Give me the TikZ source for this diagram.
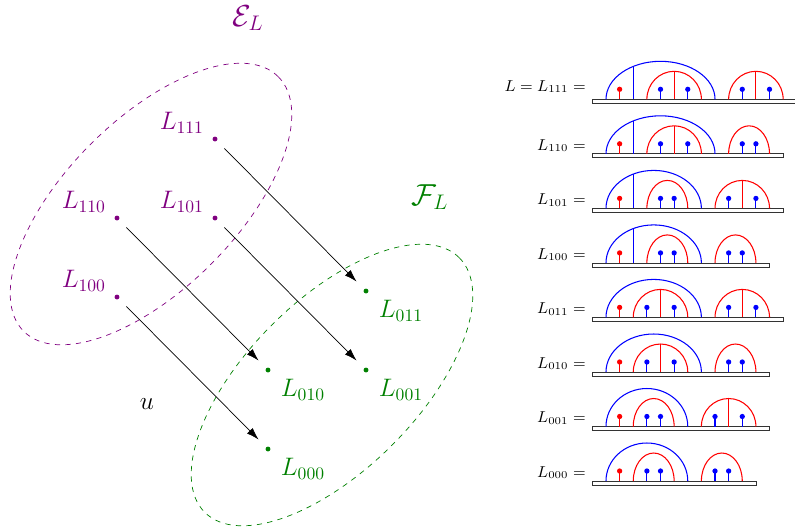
\documentclass[tikz,border=0pt]{standalone}
\usepackage{amsmath}
\usepackage{amssymb}
\usepackage{xcolor}
\usepackage{tikz}
\usetikzlibrary{arrows.meta, positioning, calc}
\definecolor{ecol}{RGB}{128,0,128}
\definecolor{fcol}{RGB}{0,128,0}

\newcommand{\bluearc}[2]{\draw[barc] (#1,0) arc[start angle=180, end angle=0, x radius={(#2-#1)/2}, y radius=38];}
\newcommand{\redarc}[2]{\draw[rarc] (#1,0) arc[start angle=180, end angle=0, x radius={(#2-#1)/2}, y radius=28];}
\newcommand{\stemdot}[2]{\draw[#1, line width=0.6pt] (#2,0) -- (#2,10); \fill[#1] (#2,10) circle (1.5pt);}
\newcommand{\railbar}[1]{\draw[railbox] (-1,0) rectangle (#1,-4);}

\begin{document}
\begin{tikzpicture}[x=0.02cm, y=-0.02cm,
  edot/.style={circle, fill=ecol, inner sep=0pt, minimum size=2.8pt},
  fdot/.style={circle, fill=fcol, inner sep=0pt, minimum size=2.8pt},
  elab/.style={text=ecol, font=\Large, inner sep=1pt},
  flab/.style={text=fcol, font=\Large, inner sep=1pt},
  map/.style={-{Latex[length=7pt, width=4.5pt]}, shorten <=6pt, shorten >=6pt},
  rlab/.style={anchor=base east, font=\small, inner sep=0pt},
  rowat/.style={shift={(606,#1)}, x=0.2726cm, y=0.02cm},
  barc/.style={draw=blue, line width=0.6pt},
  rarc/.style={draw=red, line width=0.6pt},
  railbox/.style={draw=black!80, fill=white, line width=0.45pt}
]
  \useasboundingbox (0,0) rectangle (795,529);

  % the two sets
  \draw[ecol, dashed, rotate around={45:(151,204)}] (151,204) ellipse [x radius=180, y radius=85];
  \draw[fcol, dashed, rotate around={45:(332,385)}] (332,385) ellipse [x radius=180, y radius=85];
  \node[elab, font=\LARGE, inner sep=0pt] (etitle) at (248,18) {$\mathcal{E}_L$};
  \node[flab, font=\LARGE, inner sep=0pt] (ftitle) at (430,197) {$\mathcal{F}_L$};

  \node[edot] (e111) at (215,139) {};
  \node[edot] (e110) at (117,218) {};
  \node[edot] (e101) at (215,218) {};
  \node[edot] (e100) at (117,297) {};
  \node[elab, above left=1pt and 4pt of e111] {$L_{111}$};
  \node[elab, above left=1pt and 4pt of e110] {$L_{110}$};
  \node[elab, above left=1pt and 4pt of e101] {$L_{101}$};
  \node[elab, above left=1pt and 4pt of e100] {$L_{100}$};

  \node[fdot] (f011) at (366,291) {};
  \node[fdot] (f010) at (268,370) {};
  \node[fdot] (f001) at (366,370) {};
  \node[fdot] (f000) at (268,449) {};
  \node[flab, below right=3pt and 5pt of f011] {$L_{011}$};
  \node[flab, below right=3pt and 5pt of f010] {$L_{010}$};
  \node[flab, below right=3pt and 5pt of f001] {$L_{001}$};
  \node[flab, below right=3pt and 5pt of f000] {$L_{000}$};

  \draw[map] (e111) -- (f011);
  \draw[map] (e110) -- (f010);
  \draw[map] (e101) -- (f001);
  \draw[map] (e100) -- (f000);
  \node[font=\Large] (u) at (147,404) {$u$};

  % the eight link patterns
  \node[rlab] (r111) at (586,91) {$L = L_{111} =$};
  \node[rlab] (r110) at (586,150) {$L_{110} =$};
  \node[rlab] (r101) at (586,204.5) {$L_{101} =$};
  \node[rlab] (r100) at (586,259) {$L_{100} =$};
  \node[rlab] (r011) at (586,313.5) {$L_{011} =$};
  \node[rlab] (r010) at (586,368) {$L_{010} =$};
  \node[rlab] (r001) at (586,422.5) {$L_{001} =$};
  \node[rlab] (r000) at (586,477) {$L_{000} =$};

  \begin{scope}[rowat=99.3]
    \railbar{14}
    \bluearc{0}{8} \draw[barc] (2,0) -- (2,33);
    \stemdot{red}{1}
    \redarc{3}{7} \draw[rarc] (5,0) -- (5,28); \stemdot{blue}{4} \stemdot{blue}{6}
    \redarc{9}{13} \draw[rarc] (11,0) -- (11,28); \stemdot{blue}{10} \stemdot{blue}{12}
  \end{scope}
  \begin{scope}[rowat=153.8]
    \railbar{13}
    \bluearc{0}{8} \draw[barc] (2,0) -- (2,33);
    \stemdot{red}{1}
    \redarc{3}{7} \draw[rarc] (5,0) -- (5,28); \stemdot{blue}{4} \stemdot{blue}{6}
    \redarc{9}{12} \stemdot{blue}{10} \stemdot{blue}{11}
  \end{scope}
  \begin{scope}[rowat=208.4]
    \railbar{13}
    \bluearc{0}{7} \draw[barc] (2,0) -- (2,34.3);
    \stemdot{red}{1}
    \redarc{3}{6} \stemdot{blue}{4} \stemdot{blue}{5}
    \redarc{8}{12} \draw[rarc] (10,0) -- (10,28); \stemdot{blue}{9} \stemdot{blue}{11}
  \end{scope}
  \begin{scope}[rowat=262.9]
    \railbar{12}
    \bluearc{0}{7} \draw[barc] (2,0) -- (2,34.3);
    \stemdot{red}{1}
    \redarc{3}{6} \stemdot{blue}{4} \stemdot{blue}{5}
    \redarc{8}{11} \stemdot{blue}{9} \stemdot{blue}{10}
  \end{scope}
  \begin{scope}[rowat=317.4]
    \railbar{13}
    \bluearc{0}{7}
    \stemdot{red}{1}
    \redarc{2}{6} \draw[rarc] (4,0) -- (4,28); \stemdot{blue}{3} \stemdot{blue}{5}
    \redarc{8}{12} \draw[rarc] (10,0) -- (10,28); \stemdot{blue}{9} \stemdot{blue}{11}
  \end{scope}
  \begin{scope}[rowat=372]
    \railbar{12}
    \bluearc{0}{7}
    \stemdot{red}{1}
    \redarc{2}{6} \draw[rarc] (4,0) -- (4,28); \stemdot{blue}{3} \stemdot{blue}{5}
    \redarc{8}{11} \stemdot{blue}{9} \stemdot{blue}{10}
  \end{scope}
  \begin{scope}[rowat=426.5]
    \railbar{12}
    \bluearc{0}{6}
    \stemdot{red}{1}
    \redarc{2}{5} \stemdot{blue}{3} \stemdot{blue}{4}
    \redarc{7}{11} \draw[rarc] (9,0) -- (9,28); \stemdot{blue}{8} \stemdot{blue}{10}
  \end{scope}
  \begin{scope}[rowat=481]
    \railbar{11}
    \bluearc{0}{6}
    \stemdot{red}{1}
    \redarc{2}{5} \stemdot{blue}{3} \stemdot{blue}{4}
    \redarc{7}{10} \stemdot{blue}{8} \stemdot{blue}{9}
  \end{scope}
\end{tikzpicture}
\end{document}
